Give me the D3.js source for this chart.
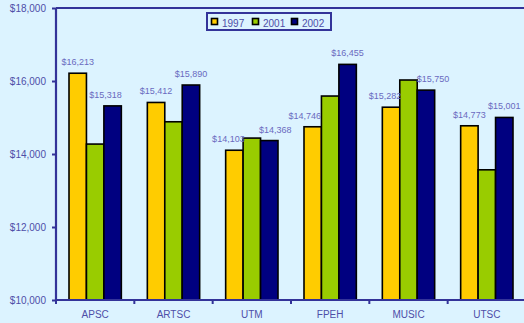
<!DOCTYPE html>
<html>
<head>
<meta charset="utf-8">
<script src="https://cdn.jsdelivr.net/npm/d3@7"></script>
<style>
  html, body { margin: 0; padding: 0; background: #DCF3FF; }
  svg { display: block; }
  text { font-family: "Liberation Sans", Arial, sans-serif; }
</style>
</head>
<body>
<svg id="chart" width="524" height="323"></svg>
<script>
// Faculty figures by year
const categories = ["APSC", "ARTSC", "UTM", "FPEH", "MUSIC", "UTSC"];
const seriesNames = ["1997", "2001", "2002"];
const values1997 = [16213, 15412, 14103, 14746, 15282, 14773];
const values2001 = [14272, 14883, 14436, 15588, 16027, 13567];
const values2002 = [15318, 15890, 14368, 16455, 15750, 15001];
const yTicks = [10000, 12000, 14000, 16000, 18000];
const seriesColors = ["#FFCC00", "#99CC00", "#000080"];
const labelledSeries = ["1997", "2002"];

const series = [values1997, values2001, values2002];
const rows = categories.map((c, i) => ({
  cat: c,
  vals: seriesNames.map((s, k) => ({ cat: c, key: s, value: series[k][i], color: seriesColors[k] }))
}));

const svg = d3.select("#chart");
const axisColor = "#333399";
const tickTextColor = "#4E4EA8";
const valueTextColor = "#6A6AC0";

const plotLeft = 56, plotRight = 526, plotTop = 8, plotBottom = 300;

// Horizontal nudges for a few value labels so they sit clear of neighbours
const labelNudge = { "APSC 2002": -7, "UTM 1997": -6, "UTM 2002": 6, "FPEH 1997": -8, "MUSIC 1997": -6, "MUSIC 2002": 7 };

const x0 = d3.scaleBand().domain(categories).range([plotLeft, plotRight]).paddingInner(0).paddingOuter(0);
const groupPad = 13;
const x1 = d3.scaleBand().domain(seriesNames).range([groupPad, x0.bandwidth() - groupPad]).padding(0);
const y = d3.scaleLinear().domain([10000, 18000]).range([plotBottom, plotTop]);

// Bars
const groups = svg.append("g").selectAll("g").data(rows).join("g")
  .attr("transform", d => `translate(${x0(d.cat)},0)`);

groups.selectAll("rect").data(d => d.vals).join("rect")
  .attr("x", d => x1(d.key))
  .attr("y", d => y(d.value))
  .attr("width", x1.bandwidth())
  .attr("height", d => y(10000) - y(d.value))
  .attr("fill", d => d.color)
  .attr("stroke", "#000")
  .attr("stroke-width", 1.6);

// Value labels for 1997 and 2002
groups.selectAll("text.val").data(d => d.vals.filter(v => labelledSeries.includes(v.key))).join("text")
  .attr("class", "val")
  .attr("x", d => x1(d.key) + x1.bandwidth() / 2 + (labelNudge[d.cat + " " + d.key] || 0))
  .attr("y", d => y(d.value) - 8)
  .attr("text-anchor", "middle")
  .attr("font-size", "9px")
  .attr("fill", valueTextColor)
  .text(d => d3.format("$,")(d.value));

// Y axis
const yAxis = svg.append("g")
  .attr("transform", `translate(${plotLeft},0)`)
  .call(d3.axisLeft(y).tickValues(yTicks).tickSize(4).tickPadding(6).tickFormat(d3.format("$,")));
yAxis.select(".domain").attr("stroke", axisColor).attr("stroke-width", 2.2).attr("d", `M0,${plotTop}V${plotBottom}`);
yAxis.selectAll(".tick line").attr("stroke", axisColor).attr("stroke-width", 2);
yAxis.selectAll(".tick text").attr("fill", tickTextColor).attr("font-size", "10px")
  .attr("font-family", "Liberation Sans, Arial, sans-serif");

// X axis with ticks at category boundaries
const xAxis = svg.append("g")
  .attr("transform", `translate(0,${plotBottom})`)
  .call(d3.axisBottom(x0).tickSize(0).tickPadding(11));
xAxis.select(".domain").attr("stroke", axisColor).attr("stroke-width", 2.2).attr("d", `M${plotLeft},0H${plotRight}`);
xAxis.selectAll(".tick text").attr("fill", tickTextColor).attr("font-size", "10px")
  .attr("font-family", "Liberation Sans, Arial, sans-serif");
xAxis.selectAll("line.sep").data(categories).join("line")
  .attr("class", "sep")
  .attr("x1", d => x0(d)).attr("x2", d => x0(d))
  .attr("y1", 0).attr("y2", 4)
  .attr("stroke", axisColor).attr("stroke-width", 2);

// Plot frame top edge
svg.append("line")
  .attr("x1", plotLeft).attr("x2", plotRight).attr("y1", plotTop).attr("y2", plotTop)
  .attr("stroke", axisColor).attr("stroke-width", 2.2);

// Legend
const legend = svg.append("g").attr("transform", "translate(207,13)");
legend.append("rect").attr("width", 124).attr("height", 17)
  .attr("fill", "#DCF3FF").attr("stroke", axisColor).attr("stroke-width", 2);
const itemX = [4, 45, 84];
const items = legend.selectAll("g.item").data(seriesNames).join("g")
  .attr("class", "item")
  .attr("transform", (d, i) => `translate(${itemX[i]},0)`);
items.append("rect").attr("x", 0.5).attr("y", 5.5).attr("width", 6).attr("height", 6)
  .attr("fill", (d, i) => seriesColors[i]).attr("stroke", "#000").attr("stroke-width", 1.6);
items.append("text").attr("x", 11).attr("y", 13.5)
  .attr("font-size", "10px").attr("fill", tickTextColor)
  .text(d => d);
</script>
</body>
</html>
